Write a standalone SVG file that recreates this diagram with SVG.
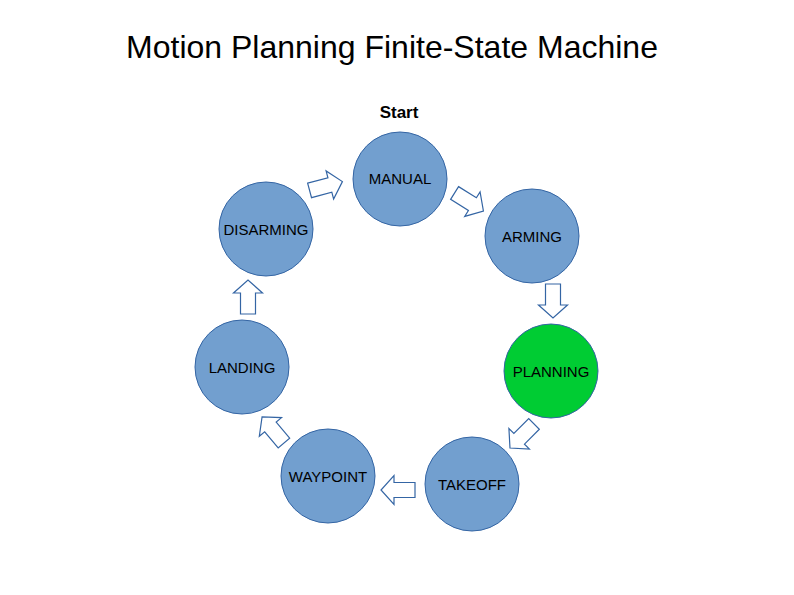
<svg xmlns="http://www.w3.org/2000/svg" width="794" height="595" viewBox="0 0 794 595">
<defs>
<style>
.n{fill:#729fcf;stroke:#3465a4;stroke-width:1}
.g{fill:#00cc33;stroke:#3465a4;stroke-width:1}
.t{font-family:"Liberation Sans",Arial,sans-serif;font-size:15px;fill:#000;text-anchor:middle;dominant-baseline:central}
.a{fill:#fff;stroke:#3465a4;stroke-width:1.2;stroke-linejoin:miter}
</style>
<polygon id="arr" class="a" points="-17,-7.5 4,-7.5 4,-14.5 17,0 4,14.5 4,7.5 -17,7.5"/>
</defs>
<rect width="794" height="595" fill="#fff"/>
<text x="392" y="58" font-family="Liberation Sans,Arial,sans-serif" font-size="32" text-anchor="middle">Motion Planning Finite-State Machine</text>
<text x="399" y="118" font-family="Liberation Sans,Arial,sans-serif" font-size="17" font-weight="bold" text-anchor="middle">Start</text>
<g id="connectors">
<use href="#arr" transform="translate(326,186) rotate(-15)"/>
<use href="#arr" transform="translate(469,202) rotate(32)"/>
<use href="#arr" transform="translate(553,301) rotate(90)"/>
<use href="#arr" transform="translate(522,436) rotate(135)"/>
<use href="#arr" transform="translate(398,490) rotate(180)"/>
<use href="#arr" transform="translate(273,430) rotate(-130)"/>
<use href="#arr" transform="translate(248,297) rotate(-90)"/>
</g>
<g id="manual"><circle class="n" cx="400" cy="179" r="47"/><text class="t" x="400" y="178">MANUAL</text></g>
<g id="arming"><circle class="n" cx="532" cy="236" r="47"/><text class="t" x="532" y="236">ARMING</text></g>
<g id="planning"><circle class="g" cx="551" cy="371" r="47"/><text class="t" x="551" y="371">PLANNING</text></g>
<g id="takeoff"><circle class="n" cx="472" cy="484" r="47"/><text class="t" x="472" y="484">TAKEOFF</text></g>
<g id="waypoint"><circle class="n" cx="328" cy="476" r="47"/><text class="t" x="328" y="476">WAYPOINT</text></g>
<g id="landing"><circle class="n" cx="242" cy="367" r="47"/><text class="t" x="242" y="367">LANDING</text></g>
<g id="disarming"><circle class="n" cx="266" cy="229" r="47"/><text class="t" x="266" y="229">DISARMING</text></g>
</svg>
